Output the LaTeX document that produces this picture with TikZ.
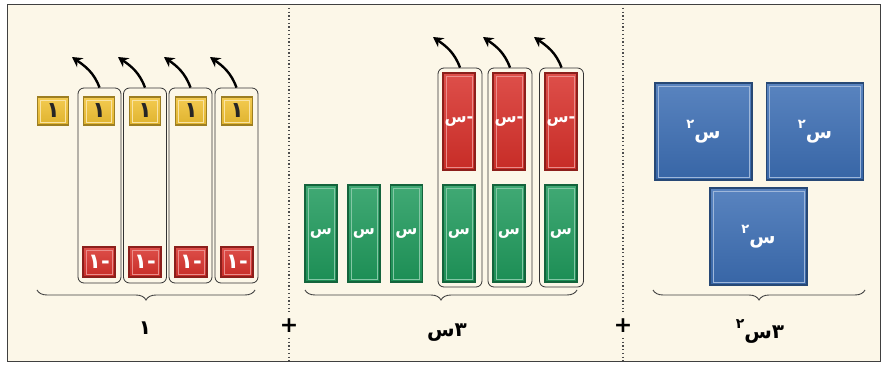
\documentclass[tikz,border=0pt]{standalone}
\usepackage{fontspec}
\newfontfamily\arabicfont[Script=Arabic]{DejaVu Sans}
\TeXXeTstate=1
\usetikzlibrary{arrows.meta,decorations.pathreplacing}
\definecolor{paper}{HTML}{FCF7E8}
\definecolor{unitgold}{HTML}{F2C232}
\definecolor{unitred}{HTML}{D8302A}
\definecolor{xgreen}{HTML}{1F9A5C}
\definecolor{sqblue}{HTML}{3C6EB4}
% raised exponent two
\newcommand\expotwo[1]{\raisebox{0.5em}{\fontsize{#1}{#1}\selectfont ٢}}
\tikzset{
  inset/.style={path picture={\draw[#1,line width=0.7pt]
    ([shift={(3pt,3pt)}]path picture bounding box.south west) rectangle
    ([shift={(-3pt,-3pt)}]path picture bounding box.north east);}},
  tile/.style={draw=#1!65!black,line width=1.2pt,inner sep=0pt,
    top color=#1!85!white,bottom color=#1!92!black,
    font=\arabicfont\bfseries\fontsize{16}{18}\selectfont},
  unittile/.style={tile=unitgold,inset=white!55!unitgold,
    minimum width=31pt,minimum height=28pt,text=black!85,
    font=\arabicfont\bfseries\fontsize{22}{24}\selectfont},
  negunit/.style={tile=unitred,inset=white!45!unitred,
    minimum width=32pt,minimum height=30pt,text=white,
    font=\arabicfont\bfseries\fontsize{21}{23}\selectfont},
  xtile/.style={tile=xgreen,inset=white!45!xgreen,
    minimum width=32pt,minimum height=97pt,text=white},
  negx/.style={tile=unitred,inset=white!45!unitred,
    minimum width=32pt,minimum height=97pt,text=white},
  sqtile/.style={tile=sqblue,inset=white!50!sqblue,
    minimum width=97pt,minimum height=97pt,text=white,
    font=\arabicfont\bfseries\fontsize{19}{21}\selectfont},
  pairbox/.style={draw=black!80,line width=0.8pt,rounded corners=6pt,
    inner sep=0pt},
  flip/.style={-{Stealth[length=10pt,width=11pt]},line width=2.4pt,black},
  groupbrace/.style={decorate,decoration={brace,mirror,amplitude=10pt},
    line width=0.9pt,black!75},
  sumlabel/.style={font=\arabicfont\bfseries\fontsize{20}{22}\selectfont},
  divider/.style={black!70,line width=1.3pt,dash pattern=on 1.3pt off 2.4pt}
}
\begin{document}
\begin{tikzpicture}[x=1pt,y=1pt]
  \useasboundingbox (0,0) rectangle (883,364);
  \draw[fill=paper,draw=black!75,line width=1pt] (7,3) rectangle (880,359);
  % Dividers
  \draw[divider] (289,356) -- (289,52);
  \draw[divider] (289,26) -- (289,3);
  \draw[divider] (623,356) -- (623,52);
  \draw[divider] (623,26) -- (623,3);
  \node[font=\arabicfont\bfseries\fontsize{22}{22}\selectfont] (plusa) at (289,38) {+};
  \node[font=\arabicfont\bfseries\fontsize{22}{22}\selectfont] (plusb) at (623,38) {+};

  % Constants: 5 - 4 = 1
  \node[pairbox,minimum width=43pt,minimum height=195pt] (onebox1) at (99.5,178.5) {};
  \node[pairbox,minimum width=43pt,minimum height=195pt] (onebox2) at (145,178.5) {};
  \node[pairbox,minimum width=43pt,minimum height=195pt] (onebox3) at (190.5,178.5) {};
  \node[pairbox,minimum width=43pt,minimum height=195pt] (onebox4) at (236.5,178.5) {};
  \node[unittile] (one0) at (53,253) {\beginR ١\endR};
  \node[unittile] (one1) at (99,253) {\beginR ١\endR};
  \node[unittile] (one2) at (145,253) {\beginR ١\endR};
  \node[unittile] (one3) at (191,253) {\beginR ١\endR};
  \node[unittile] (one4) at (237,253) {\beginR ١\endR};
  \node[negunit] (negone1) at (99,102) {\beginR -١\endR};
  \node[negunit] (negone2) at (145,102) {\beginR -١\endR};
  \node[negunit] (negone3) at (191,102) {\beginR -١\endR};
  \node[negunit] (negone4) at (237,102) {\beginR -١\endR};
  \coordinate (onetip1) at (72,307);
  \coordinate (onetip2) at (118,307);
  \coordinate (onetip3) at (164,307);
  \coordinate (onetip4) at (210,307);
  \draw[flip] (onebox1.north) to[out=110,in=-35] (onetip1);
  \draw[flip] (onebox2.north) to[out=110,in=-35] (onetip2);
  \draw[flip] (onebox3.north) to[out=110,in=-35] (onetip3);
  \draw[flip] (onebox4.north) to[out=110,in=-35] (onetip4);
  \coordinate (onebl) at (37,74);
  \coordinate (onebr) at (255,74);
  \draw[groupbrace] (onebl) -- (onebr);
  \node[sumlabel] (onesum) at (145,36) {\beginR ١\endR};

  % Linear terms: 6x - 3x = 3x
  \node[pairbox,minimum width=44pt,minimum height=219pt] (xbox1) at (460,186.5) {};
  \node[pairbox,minimum width=44pt,minimum height=219pt] (xbox2) at (510,186.5) {};
  \node[pairbox,minimum width=44pt,minimum height=219pt] (xbox3) at (561.5,186.5) {};
  \node[xtile] (x1) at (321,130.5) {\beginR س\endR};
  \node[xtile] (x2) at (364,130.5) {\beginR س\endR};
  \node[xtile] (x3) at (406.5,130.5) {\beginR س\endR};
  \node[xtile] (x4) at (459,130.5) {\beginR س\endR};
  \node[xtile] (x5) at (509,130.5) {\beginR س\endR};
  \node[xtile] (x6) at (561,130.5) {\beginR س\endR};
  \node[negx] (negx1) at (459,242.5) {\beginR -س\endR};
  \node[negx] (negx2) at (509,242.5) {\beginR -س\endR};
  \node[negx] (negx3) at (561,242.5) {\beginR -س\endR};
  \coordinate (xtip1) at (433,327);
  \coordinate (xtip2) at (483,327);
  \coordinate (xtip3) at (534,327);
  \draw[flip] (xbox1.north) to[out=110,in=-35] (xtip1);
  \draw[flip] (xbox2.north) to[out=110,in=-35] (xtip2);
  \draw[flip] (xbox3.north) to[out=110,in=-35] (xtip3);
  \coordinate (xbl) at (305,74);
  \coordinate (xbr) at (577,74);
  \draw[groupbrace] (xbl) -- (xbr);
  \node[sumlabel] (xsum) at (447,31) {\beginR ٣س\endR};

  % Squares: 3x^2
  \node[sqtile] (sq1) at (703.5,232.5) {\beginR س\expotwo{13}\endR};
  \node[sqtile] (sq2) at (815,232.5) {\beginR س\expotwo{13}\endR};
  \node[sqtile] (sq3) at (758.5,127.5) {\beginR س\expotwo{13}\endR};
  \coordinate (sqbl) at (653,74);
  \coordinate (sqbr) at (865,74);
  \draw[groupbrace] (sqbl) -- (sqbr);
  \node[sumlabel] (sqsum) at (760,33) {\beginR ٣س\expotwo{14}\endR};
\end{tikzpicture}
\end{document}
